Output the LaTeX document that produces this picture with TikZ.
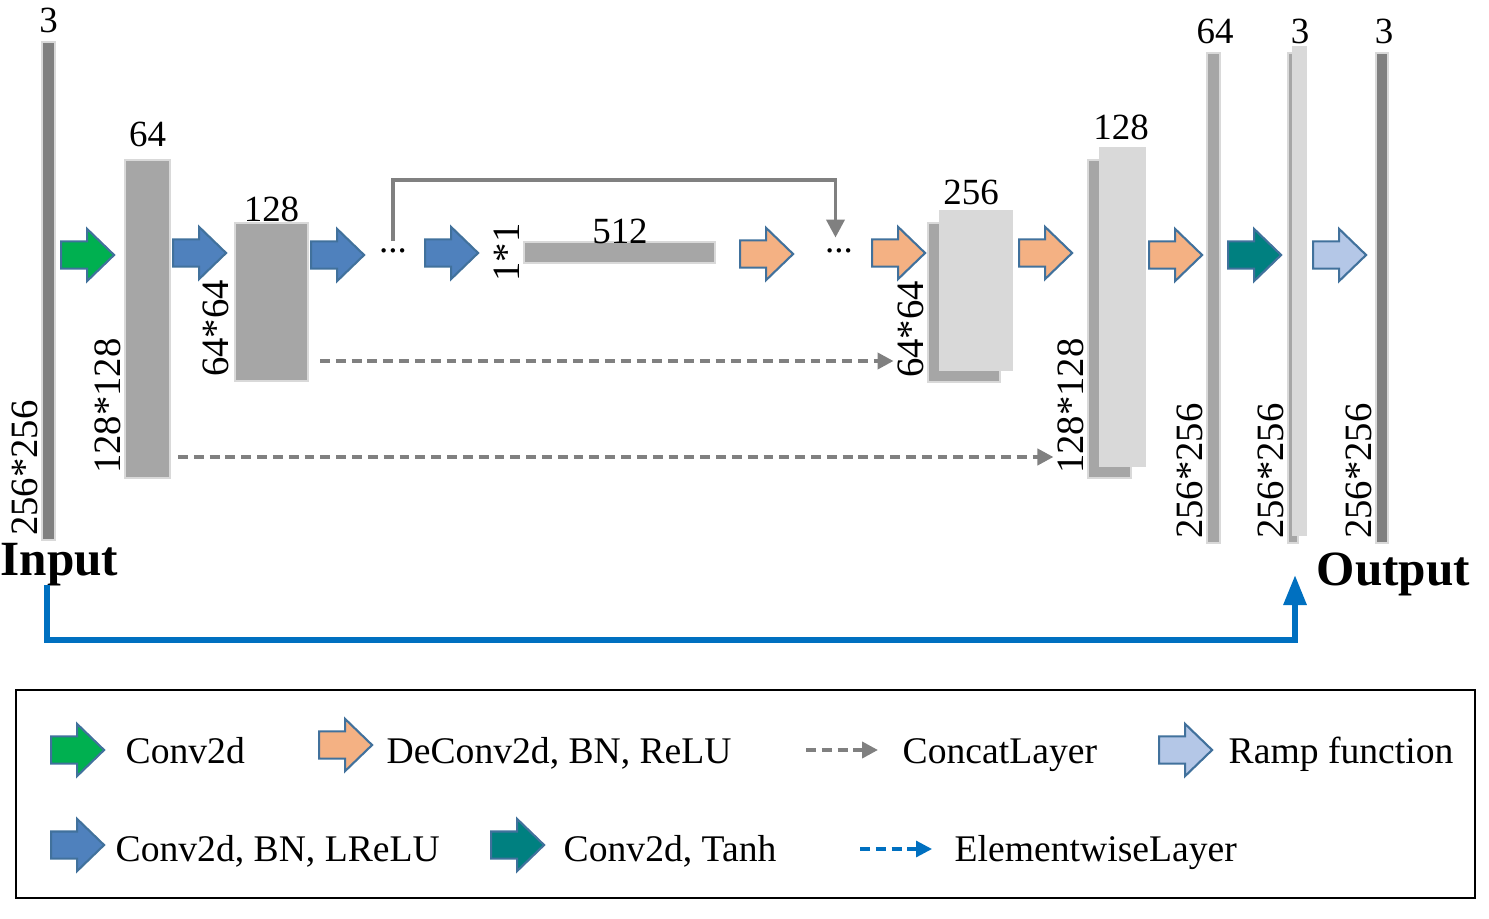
\documentclass[tikz,border=0pt]{standalone}
\usepackage{fontspec}
\setmainfont{Liberation Serif}
\usetikzlibrary{shapes.arrows,arrows.meta}

\definecolor{fmdark}{HTML}{808080}
\definecolor{fmmid}{HTML}{A6A6A6}
\definecolor{fmlight}{HTML}{D9D9D9}
\definecolor{convgreen}{HTML}{00B050}
\definecolor{convblue}{HTML}{4F81BD}
\definecolor{deconv}{HTML}{F4B183}
\definecolor{tanhteal}{HTML}{008080}
\definecolor{ramp}{HTML}{B4C7E7}
\definecolor{arrowline}{HTML}{41719C}
\definecolor{elemblue}{HTML}{0070C0}

\tikzset{
  fmap/.style={draw=black!15, line width=0.4pt, inner sep=0, outer sep=0},
  blk/.style={single arrow, draw=arrowline, line width=0.6pt, inner xsep=0,
    inner ysep=1.25mm, single arrow head extend=1.25mm,
    single arrow tip angle=88, minimum height=5.3mm, anchor=tail},
  num/.style={font=\fontsize{10.5}{12}\selectfont, inner sep=0, anchor=base},
  dimlab/.style={font=\fontsize{11}{12}\selectfont, rotate=90, inner sep=1pt,
    anchor=south west},
  dotlab/.style={font=\fontsize{10.5}{12}\selectfont, inner sep=0},
  bigname/.style={font=\fontsize{14}{16}\selectfont\bfseries, inner sep=0,
    anchor=base west},
  legtext/.style={font=\fontsize{10.7}{12}\selectfont, inner sep=0,
    anchor=base west},
  skipline/.style={draw=fmdark, line width=1.1pt,
    -{Triangle[length=1.8mm, width=1.8mm]}},
  concatline/.style={draw=fmdark, line width=1.1pt,
    dash pattern=on 2.8pt off 1.7pt, -{Triangle[length=1.6mm, width=1.6mm]}},
  elemline/.style={draw=elemblue, line width=1.7pt,
    -{Triangle[length=3mm, width=2.2mm]}},
  legelem/.style={draw=elemblue, line width=0.9pt,
    dash pattern=on 2.8pt off 1.7pt, -{Triangle[length=1.6mm, width=1.6mm]}}
}

\begin{document}
\begin{tikzpicture}[x=0.01cm, y=-0.01cm]
\useasboundingbox (0,0) rectangle (1489,919);

% encoder
\node[fmap, fill=fmdark, minimum width=0.13cm, minimum height=4.98cm] (inp) at (48.5,291) {};
\node[fmap, fill=fmmid, minimum width=0.45cm, minimum height=3.18cm] (e1) at (147.5,319) {};
\node[fmap, fill=fmmid, minimum width=0.73cm, minimum height=1.58cm] (e2) at (271.5,302) {};
\node[fmap, fill=fmmid, minimum width=1.91cm, minimum height=0.21cm] (bott) at (619.5,252.5) {};

% decoder
\node[fmap, fill=fmmid, minimum width=0.72cm, minimum height=1.59cm] (d1b) at (964,302.5) {};
\node[fmap, fill=fmlight, minimum width=0.72cm, minimum height=1.59cm] (d1) at (976,290.5) {};
\node[fmap, fill=fmmid, minimum width=0.43cm, minimum height=3.18cm] (d2b) at (1109.5,319) {};
\node[fmap, fill=fmlight, minimum width=0.45cm, minimum height=3.18cm] (d2) at (1122.5,307) {};
\node[fmap, fill=fmmid, minimum width=0.13cm, minimum height=4.9cm] (d3) at (1213.5,298) {};
\node[fmap, fill=fmmid, minimum width=0.1cm, minimum height=4.9cm] (d4b) at (1293,298) {};
\node[fmap, fill=fmlight, minimum width=0.13cm, minimum height=4.88cm] (d4) at (1299.5,291) {};
\node[fmap, fill=fmdark, minimum width=0.12cm, minimum height=4.9cm] (outp) at (1382,298) {};

% channel numbers
\node[num] at (inp.north |- 0,33) {3};
\node[num] at (e1.north |- 0,147) {64};
\node[num] at (e2.north |- 0,222) {128};
\node[num] at (620,244) {512};
\node[num] at (971,205) {256};
\node[num] at (1121,140) {128};
\node[num] at (1215,44) {64};
\node[num] at (1300,44) {3};
\node[num] at (1384,44) {3};

% sizes
\node[dimlab] (inpdim) at (inp.south west) {256*256};
\node[dimlab] (e1dim) at (e1.south west) {128*128};
\node[dimlab, yshift=2pt] (e2dim) at ([xshift=1.5pt]e2.south west) {64*64};
\node[dimlab, anchor=south] (bottdim) at (bott.west) {1*1};
\node[dimlab] (d1dim) at (d1b.south west) {64*64};
\node[dimlab] (d2dim) at (d2b.south west) {128*128};
\node[dimlab] (d3dim) at (d3.south west) {256*256};
\node[dimlab] (d4dim) at (d4b.south west) {256*256};
\node[dimlab] (outdim) at (outp.south west) {256*256};

\node[bigname] (inlab) at (0,575) {Input};
\node[bigname] (outlab) at (1316,585) {Output};

% layer arrows
\node[blk, fill=convgreen] (a1) at (60,255) {};
\node[blk, fill=convblue] (a2) at (172,253) {};
\node[blk, fill=convblue] (a3) at (310,255) {};
\node[dotlab] (dots1) at (393,251) {...};
\node[blk, fill=convblue] (a4) at (424,253) {};
\node[blk, fill=deconv] (a5) at (739,254) {};
\node[dotlab] (dots2) at (839,251) {...};
\node[blk, fill=deconv] (a6) at (871,253) {};
\node[blk, fill=deconv] (a7) at (1018,253) {};
\node[blk, fill=deconv] (a8) at (1148,255) {};
\node[blk, fill=tanhteal] (a9) at (1227,255) {};
\node[blk, fill=ramp] (a10) at (1312,255) {};

% skip and concat
\draw[skipline] ([yshift=2pt]dots1.north) -- (dots1.north |- 0,180) -| ([xshift=-1pt, yshift=3pt]dots2.north);
\coordinate (cat1s) at (320,361);
\coordinate (cat2s) at (178,457);
\draw[concatline] (cat1s) -- (cat1s -| d1dim.north);
\draw[concatline] (cat2s) -- (cat2s -| d2dim.north);

% elementwise
\coordinate (elemin) at (47,585);
\coordinate (elemout) at (1295,575);
\draw[elemline] (elemin) -- ++(0,55) -| (elemout);

% legend
\draw[line width=0.8pt] (16,690) rectangle (1475,898);
\node[blk, fill=convgreen] (l1) at (50,750) {};
\node[legtext] at (125,763) {Conv2d};
\node[blk, fill=deconv] (l2) at (318,745) {};
\node[legtext] at (386,763) {DeConv2d, BN, ReLU};
\coordinate (l3s) at (806,750);
\draw[concatline] (l3s) -- ++(72,0);
\node[legtext] at (902,763) {ConcatLayer};
\node[blk, fill=ramp] (l4) at (1158,750) {};
\node[legtext] at (1228,763) {Ramp function};

\node[blk, fill=convblue] (l5) at (50,845) {};
\node[legtext] at (115,861) {Conv2d, BN, LReLU};
\node[blk, fill=tanhteal] (l6) at (490,845) {};
\node[legtext] at (563,861) {Conv2d, Tanh};
\coordinate (l7s) at (860,849);
\draw[legelem] (l7s) -- ++(72,0);
\node[legtext] at (954,861) {ElementwiseLayer};

\end{tikzpicture}
\end{document}
